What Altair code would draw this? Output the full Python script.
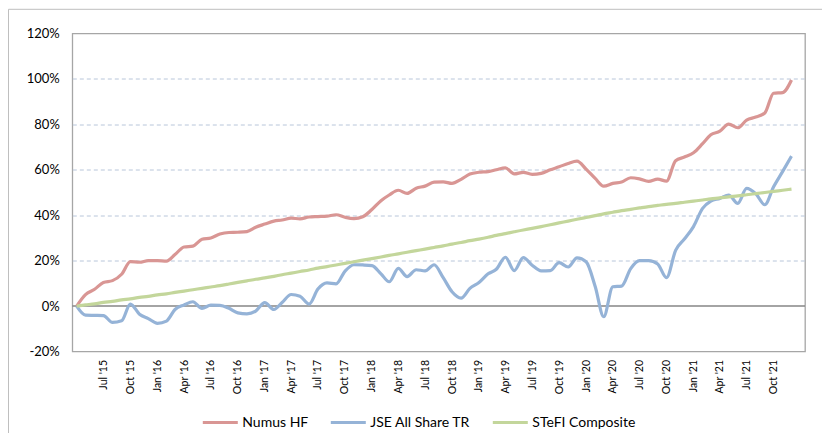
import altair as alt
import pandas as pd

# ---- data (cumulative return, %) ----
series_names = ["Numus HF", "JSE All Share TR", "STeFI Composite"]
colors = ["#D99694", "#95B3D7", "#C3D69B"]
first_month = "2015-04-01"

numus = [0.0, 5.0, 7.4, 10.4, 11.2, 14.0, 19.6, 19.3, 20.0, 20.0,
         19.8, 22.7, 26.0, 26.4, 29.4, 30.0, 31.7, 32.4, 32.5, 32.8,
         34.7, 36.1, 37.4, 37.9, 38.7, 38.4, 39.2, 39.4, 39.6, 40.2,
         39.1, 38.5, 39.3, 42.5, 46.4, 48.9, 51.0, 49.6, 51.9, 52.8,
         54.6, 54.7, 54.0, 55.8, 58.1, 58.9, 59.2, 60.0, 60.8, 58.2,
         58.9, 58.0, 58.4, 60.0, 61.3, 62.8, 63.8, 60.3, 56.2, 52.8,
         54.0, 54.6, 56.5, 56.0, 54.9, 55.9, 55.0, 64.0, 65.6, 67.5,
         71.5, 75.4, 77.0, 80.1, 78.5, 81.9, 83.2, 85.0, 93.7, 94.0,
         99.5]

jse = [0.0, -4.0, -4.1, -4.2, -7.2, -6.5, 0.9, -3.6, -5.5, -7.6,
       -6.6, -1.5, 0.5, 1.9, -1.0, 0.4, 0.3, -1.0, -3.0, -3.4,
       -2.2, 1.5, -1.5, 1.6, 5.1, 4.3, 0.9, 7.5, 10.2, 9.8,
       15.3, 18.2, 18.1, 17.8, 14.2, 10.7, 16.6, 13.0, 16.0, 15.5,
       18.2, 12.5, 6.3, 3.5, 7.8, 10.4, 14.2, 16.2, 21.5, 15.6,
       21.3, 18.0, 15.5, 15.6, 19.1, 17.2, 21.2, 19.5, 8.6, -4.7,
       8.5, 8.8, 16.5, 20.0, 20.0, 18.5, 12.5, 24.5, 29.5, 35.0,
       43.0, 46.2, 47.4, 48.9, 45.2, 51.8, 49.5, 44.6, 52.5, 59.3,
       66.0]

stefi = [0.0, 0.5, 1.0, 1.6, 2.1, 2.7, 3.2, 3.8, 4.3, 4.9,
         5.4, 6.0, 6.6, 7.2, 7.8, 8.4, 9.0, 9.7, 10.4, 11.1,
         11.8, 12.4, 13.1, 13.8, 14.5, 15.2, 15.9, 16.7, 17.4, 18.1,
         18.8, 19.5, 20.2, 20.9, 21.6, 22.3, 23.0, 23.7, 24.4, 25.1,
         25.8, 26.5, 27.3, 28.0, 28.8, 29.5, 30.3, 31.1, 31.9, 32.7,
         33.5, 34.2, 35.0, 35.8, 36.6, 37.4, 38.2, 39.0, 39.8, 40.6,
         41.3, 42.0, 42.6, 43.2, 43.8, 44.3, 44.8, 45.2, 45.7, 46.2,
         46.7, 47.2, 47.6, 48.1, 48.5, 49.0, 49.5, 50.0, 50.5, 51.0,
         51.5]

y_ticks = [-20, 0, 20, 40, 60, 80, 100, 120]
x_tick_months = pd.date_range("2015-07-01", "2021-10-01", freq="QS-JAN")

# ---- build table ----
dates = list(pd.date_range(first_month, periods=len(numus), freq="MS").strftime("%Y-%m-%d"))
rows = []
for name, vals in zip(series_names, [numus, jse, stefi]):
    for d, v in zip(dates, vals):
        rows.append({"date": d, "series": name, "value": v})
df = pd.DataFrame(rows)

tick_values = [alt.DateTime(year=int(t.year), month=int(t.month), date=1, utc=True) for t in x_tick_months]
x_domain = [alt.DateTime(year=2015, month=3, date=17, utc=True),
            alt.DateTime(year=2022, month=1, date=16, utc=True)]

grid_color = {"condition": {"test": "datum.value <= -20 || datum.value >= 120 || datum.value == 0",
                            "value": "transparent"},
              "value": "#B8C6DA"}

lines = alt.Chart(df).mark_line(strokeWidth=3.2, interpolate="monotone").encode(
    x=alt.X("date:T",
            scale=alt.Scale(type="utc", domain=x_domain),
            axis=alt.Axis(values=tick_values,
                          labelExpr="utcFormat(datum.value, \"%b '%y\")",
                          labelAngle=270, ticks=False, domain=False, grid=False,
                          title=None, labelFontSize=10.5, labelPadding=8)),
    y=alt.Y("value:Q",
            scale=alt.Scale(domain=[-20, 120], nice=False, zero=False),
            axis=alt.Axis(values=y_ticks, labelExpr="datum.value + '%'", ticks=False,
                          domain=False, grid=True, gridDash=[4, 3], gridColor=grid_color,
                          gridWidth=1, labelPadding=13, labelFontSize=13, title=None)),
    color=alt.Color("series:N",
                    scale=alt.Scale(domain=series_names, range=colors),
                    legend=alt.Legend(orient="none", legendX=129, legendY=370,
                                      direction="horizontal", columns=3, title=None,
                                      symbolType="stroke", symbolSize=1225,
                                      symbolStrokeWidth=3, labelFontSize=14,
                                      labelOffset=3, columnPadding=16, padding=0)),
)

zero_line = alt.Chart(pd.DataFrame({"value": [0]})).mark_rule(
    color="#868686", strokeWidth=1.5
).encode(y=alt.Y("value:Q", title=None))

frame = alt.Chart(pd.DataFrame({"a": [0]})).mark_rect(
    fill="transparent", stroke="#BFBFBF", strokeWidth=1
).encode(
    x=alt.value(-63.8), x2=alt.value(770),
    y=alt.value(-24.2), y2=alt.value(430),
)

chart = alt.layer(frame, zero_line, lines).properties(
    width=732.7,
    height=318,
    autosize=alt.AutoSizeParams(type="none"),
    padding={"left": 64.3, "top": 25.5, "right": 17, "bottom": 81.5},
    background="white",
).configure_view(
    stroke="#A6A6A6", strokeWidth=1.3
).configure_axis(
    labelFont="Lato", labelColor="#000000"
).configure_legend(
    labelFont="Lato", labelColor="#000000"
)

chart.save("out.html", embed_options={"renderer": "svg", "actions": False})
